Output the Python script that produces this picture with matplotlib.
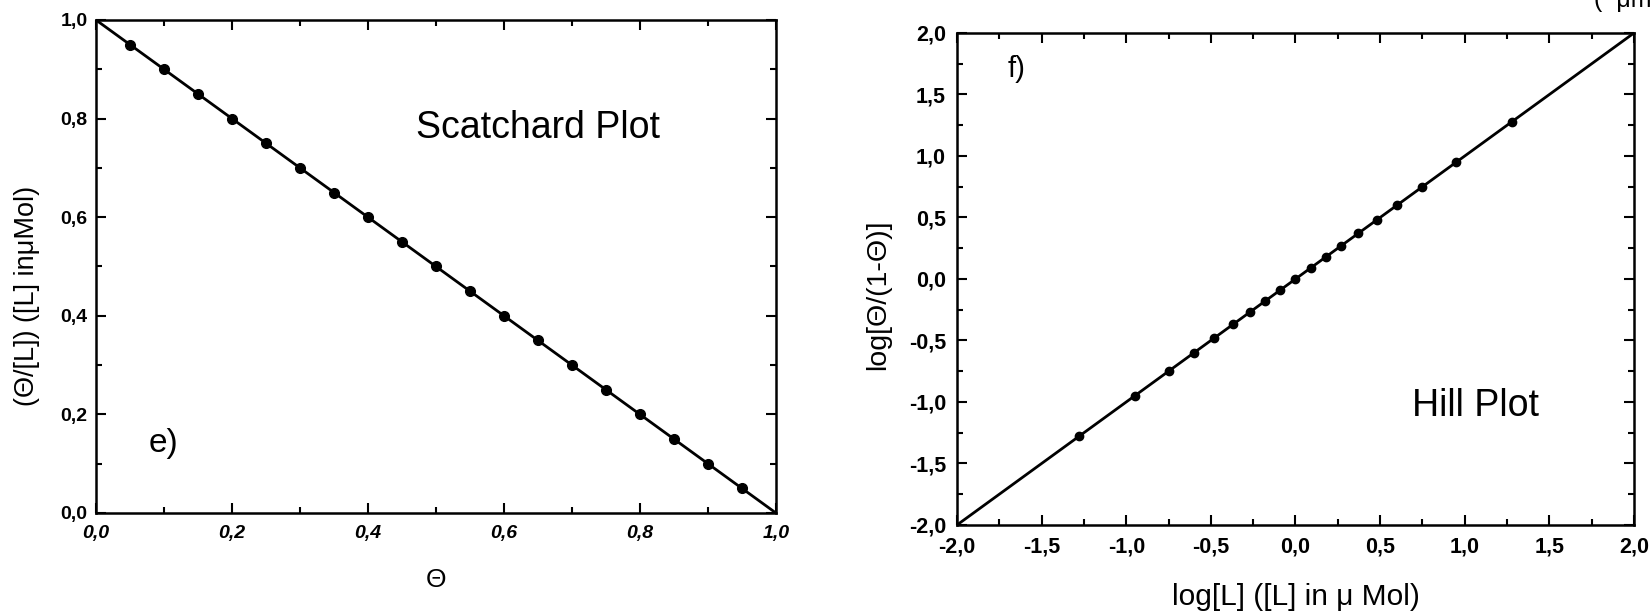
import matplotlib
matplotlib.use("Agg")
import matplotlib.pyplot as plt
from matplotlib.ticker import MultipleLocator, FuncFormatter

plt.rcParams['font.family'] = ['Liberation Sans', 'DejaVu Sans']

# Scatchard plot data: fractional saturation vs. theta/[L]
theta = [0.05, 0.10, 0.15, 0.20, 0.25, 0.30, 0.35, 0.40, 0.45, 0.50,
         0.55, 0.60, 0.65, 0.70, 0.75, 0.80, 0.85, 0.90, 0.95]
theta_over_L = [0.95, 0.90, 0.85, 0.80, 0.75, 0.70, 0.65, 0.60, 0.55, 0.50,
                0.45, 0.40, 0.35, 0.30, 0.25, 0.20, 0.15, 0.10, 0.05]
scatchard_fit_x = [0.0, 1.0]
scatchard_fit_y = [1.0, 0.0]

# Hill plot data: log[L] vs. log[theta/(1-theta)]
log_L = [-1.28, -0.95, -0.75, -0.60, -0.48, -0.37, -0.27, -0.18, -0.09, 0.00,
         0.09, 0.18, 0.27, 0.37, 0.48, 0.60, 0.75, 0.95, 1.28]
log_ratio = [-1.28, -0.95, -0.75, -0.60, -0.48, -0.37, -0.27, -0.18, -0.09, 0.00,
             0.09, 0.18, 0.27, 0.37, 0.48, 0.60, 0.75, 0.95, 1.28]
hill_fit_x = [-2.0, 2.0]
hill_fit_y = [-2.0, 2.0]


def comma_fmt(v, pos):
    return f"{v:.1f}".replace(".", ",").replace("-0,0", "0,0")


fig = plt.figure(figsize=(16.52, 6.11), dpi=100)

# ---- e) Scatchard plot ----
ax1 = fig.add_axes([0.0581, 0.1604, 0.4116, 0.8069])
ax1.plot(scatchard_fit_x, scatchard_fit_y, color='black', lw=2.0)
ax1.plot(theta, theta_over_L, 'o', color='black', ms=7)
ax1.set_xlim(0, 1)
ax1.set_ylim(0, 1)
ax1.xaxis.set_major_locator(MultipleLocator(0.2))
ax1.xaxis.set_minor_locator(MultipleLocator(0.1))
ax1.yaxis.set_major_locator(MultipleLocator(0.2))
ax1.yaxis.set_minor_locator(MultipleLocator(0.1))
ax1.xaxis.set_major_formatter(FuncFormatter(comma_fmt))
ax1.yaxis.set_major_formatter(FuncFormatter(comma_fmt))
ax1.set_xlabel("Θ", fontsize=19)
ax1.xaxis.set_label_coords(0.5, -0.112)
ax1.set_ylabel("(Θ/[L]) ([L] inμMol)", fontsize=19.5)
ax1.yaxis.set_label_coords(-0.082, 0.44)
ax1.text(0.47, 0.78, "Scatchard Plot", fontsize=27, va='center', ha='left')
ax1.text(0.10, 0.14, "e)", fontsize=24, va='center', ha='center')

# ---- f) Hill plot ----
ax2 = fig.add_axes([0.5793, 0.1408, 0.4098, 0.8052])
ax2.plot(hill_fit_x, hill_fit_y, color='black', lw=2.0)
ax2.plot(log_L, log_ratio, 'o', color='black', ms=6)
ax2.set_xlim(-2, 2)
ax2.set_ylim(-2, 2)
ax2.xaxis.set_major_locator(MultipleLocator(0.5))
ax2.xaxis.set_minor_locator(MultipleLocator(0.25))
ax2.yaxis.set_major_locator(MultipleLocator(0.5))
ax2.yaxis.set_minor_locator(MultipleLocator(0.25))
ax2.xaxis.set_major_formatter(FuncFormatter(comma_fmt))
ax2.yaxis.set_major_formatter(FuncFormatter(comma_fmt))
ax2.set_xlabel("log[L] ([L] in μ Mol)", fontsize=21.5)
ax2.xaxis.set_label_coords(0.5, -0.118)
ax2.set_ylabel("log[Θ/(1-Θ)]", fontsize=20.5)
ax2.yaxis.set_label_coords(-0.097, 0.468)
ax2.text(-1.65, 1.71, "f)", fontsize=21, va='center', ha='center')
ax2.text(0.69, -1.03, "Hill Plot", fontsize=27, va='center', ha='left')

for ax, size in ((ax1, 14), (ax2, 15.5)):
    for side in ax.spines.values():
        side.set_linewidth(1.8)
    ax.tick_params(which='both', direction='in', top=True, right=True,
                   width=1.5, labelsize=size)
    ax.tick_params(which='major', length=7)
    ax.tick_params(which='minor', length=4)
    ax.tick_params(axis='y', which='major', pad=6)
    for lbl in ax.get_xticklabels() + ax.get_yticklabels():
        lbl.set_fontweight('bold')
ax1.tick_params(axis='x', which='major', pad=9)
ax2.tick_params(axis='x', which='major', pad=8)
ax2.tick_params(axis='y', which='major', pad=8)
for lbl in ax1.get_xticklabels():
    lbl.set_fontstyle('italic')

# Partially visible unit label at the top edge
fig.text(0.965, 1.0, "(  μm", fontsize=18, va='center', ha='left')

fig.savefig("out.png", dpi=100)
